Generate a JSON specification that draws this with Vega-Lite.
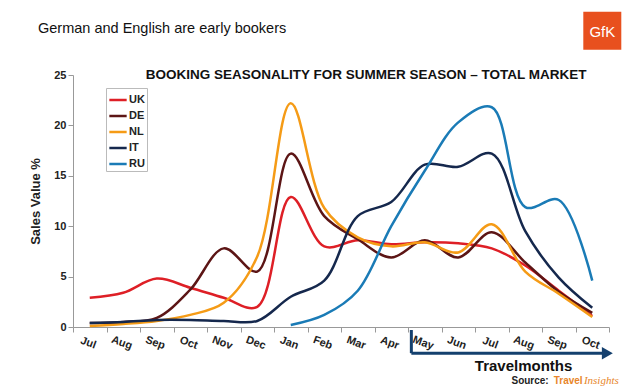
{
  "$schema": "https://vega.github.io/schema/vega-lite/v6.json",
  "width": 536,
  "height": 252,
  "autosize": {"type": "none"},
  "padding": {"left": 73, "top": 75, "right": 16, "bottom": 64},
  "background": "white",
  "title": {"text": "German and English are early bookers", "anchor": "start", "frame": "group", "dx": -35, "offset": -25, "fontSize": 14.5, "fontWeight": "normal", "font": "Liberation Sans", "color": "#111"},
  "config": {"view": {"stroke": null}, "font": "Liberation Sans"},
  "layer": [
    {
      "data": {"values": [
        {"country": "UK", "order": 0, "month": "Jul", "value": 2.9},
        {"country": "UK", "order": 1, "month": "Aug", "value": 3.4},
        {"country": "UK", "order": 2, "month": "Sep", "value": 4.8},
        {"country": "UK", "order": 3, "month": "Oct", "value": 3.9},
        {"country": "UK", "order": 4, "month": "Nov", "value": 2.9},
        {"country": "UK", "order": 5, "month": "Dec", "value": 2.0},
        {"country": "UK", "order": 6, "month": "Jan", "value": 12.9},
        {"country": "UK", "order": 7, "month": "Feb", "value": 8.0},
        {"country": "UK", "order": 8, "month": "Mar", "value": 8.6},
        {"country": "UK", "order": 9, "month": "Apr", "value": 8.2},
        {"country": "UK", "order": 10, "month": "May", "value": 8.4},
        {"country": "UK", "order": 11, "month": "Jun", "value": 8.3},
        {"country": "UK", "order": 12, "month": "Jul", "value": 7.8},
        {"country": "UK", "order": 13, "month": "Aug", "value": 6.1},
        {"country": "UK", "order": 14, "month": "Sep", "value": 3.6},
        {"country": "UK", "order": 15, "month": "Oct", "value": 1.1},
        {"country": "DE", "order": 0, "month": "Jul", "value": 0.4},
        {"country": "DE", "order": 1, "month": "Aug", "value": 0.5},
        {"country": "DE", "order": 2, "month": "Sep", "value": 0.9},
        {"country": "DE", "order": 3, "month": "Oct", "value": 3.7},
        {"country": "DE", "order": 4, "month": "Nov", "value": 7.8},
        {"country": "DE", "order": 5, "month": "Dec", "value": 5.5},
        {"country": "DE", "order": 6, "month": "Jan", "value": 17.2},
        {"country": "DE", "order": 7, "month": "Feb", "value": 11.0},
        {"country": "DE", "order": 8, "month": "Mar", "value": 8.7},
        {"country": "DE", "order": 9, "month": "Apr", "value": 6.9},
        {"country": "DE", "order": 10, "month": "May", "value": 8.6},
        {"country": "DE", "order": 11, "month": "Jun", "value": 6.9},
        {"country": "DE", "order": 12, "month": "Jul", "value": 9.4},
        {"country": "DE", "order": 13, "month": "Aug", "value": 6.4},
        {"country": "DE", "order": 14, "month": "Sep", "value": 3.5},
        {"country": "DE", "order": 15, "month": "Oct", "value": 1.4},
        {"country": "NL", "order": 0, "month": "Jul", "value": 0.1},
        {"country": "NL", "order": 1, "month": "Aug", "value": 0.3},
        {"country": "NL", "order": 2, "month": "Sep", "value": 0.6},
        {"country": "NL", "order": 3, "month": "Oct", "value": 1.2},
        {"country": "NL", "order": 4, "month": "Nov", "value": 2.4},
        {"country": "NL", "order": 5, "month": "Dec", "value": 7.0},
        {"country": "NL", "order": 6, "month": "Jan", "value": 22.2},
        {"country": "NL", "order": 7, "month": "Feb", "value": 11.8},
        {"country": "NL", "order": 8, "month": "Mar", "value": 8.9},
        {"country": "NL", "order": 9, "month": "Apr", "value": 8.0},
        {"country": "NL", "order": 10, "month": "May", "value": 8.4},
        {"country": "NL", "order": 11, "month": "Jun", "value": 7.4},
        {"country": "NL", "order": 12, "month": "Jul", "value": 10.2},
        {"country": "NL", "order": 13, "month": "Aug", "value": 5.5},
        {"country": "NL", "order": 14, "month": "Sep", "value": 3.3},
        {"country": "NL", "order": 15, "month": "Oct", "value": 1.0},
        {"country": "IT", "order": 0, "month": "Jul", "value": 0.4},
        {"country": "IT", "order": 1, "month": "Aug", "value": 0.5},
        {"country": "IT", "order": 2, "month": "Sep", "value": 0.7},
        {"country": "IT", "order": 3, "month": "Oct", "value": 0.7},
        {"country": "IT", "order": 4, "month": "Nov", "value": 0.6},
        {"country": "IT", "order": 5, "month": "Dec", "value": 0.6},
        {"country": "IT", "order": 6, "month": "Jan", "value": 3.0},
        {"country": "IT", "order": 7, "month": "Feb", "value": 4.6},
        {"country": "IT", "order": 8, "month": "Mar", "value": 11.0},
        {"country": "IT", "order": 9, "month": "Apr", "value": 12.4},
        {"country": "IT", "order": 10, "month": "May", "value": 16.1},
        {"country": "IT", "order": 11, "month": "Jun", "value": 15.9},
        {"country": "IT", "order": 12, "month": "Jul", "value": 17.2},
        {"country": "IT", "order": 13, "month": "Aug", "value": 9.5},
        {"country": "IT", "order": 14, "month": "Sep", "value": 4.9},
        {"country": "IT", "order": 15, "month": "Oct", "value": 1.9},
        {"country": "RU", "order": 6, "month": "Jan", "value": 0.2},
        {"country": "RU", "order": 7, "month": "Feb", "value": 1.2},
        {"country": "RU", "order": 8, "month": "Mar", "value": 3.6},
        {"country": "RU", "order": 9, "month": "Apr", "value": 10.0},
        {"country": "RU", "order": 10, "month": "May", "value": 15.5},
        {"country": "RU", "order": 11, "month": "Jun", "value": 20.3},
        {"country": "RU", "order": 12, "month": "Jul", "value": 21.8},
        {"country": "RU", "order": 13, "month": "Aug", "value": 11.9},
        {"country": "RU", "order": 14, "month": "Sep", "value": 12.6},
        {"country": "RU", "order": 15, "month": "Oct", "value": 4.6}
      ]},
      "mark": {"type": "line", "interpolate": "catmull-rom", "strokeWidth": 2.5},
      "encoding": {
        "x": {"field": "order", "type": "ordinal", "scale": {"type": "band", "paddingInner": 0, "paddingOuter": 0},
          "axis": {"title": null, "labelExpr": "['Jul','Aug','Sep','Oct','Nov','Dec','Jan','Feb','Mar','Apr','May','Jun','Jul','Aug','Sep','Oct'][datum.value]", "tickBand": "extent", "labelAngle": 20, "labelAlign": "center", "labelBaseline": "top", "labelDx": 4, "labelPadding": 5, "labelFontWeight": "bold", "labelFontSize": 11, "labelColor": "#222", "domainColor": "#999", "tickColor": "#999", "tickSize": 5}},
        "y": {"field": "value", "type": "quantitative", "scale": {"domain": [0, 25], "nice": false},
          "axis": {"title": "Sales Value %", "titleFontSize": 13, "titleFontWeight": "bold", "titleColor": "#222", "titlePadding": 11, "values": [0, 5, 10, 15, 20, 25], "grid": false, "labelFontWeight": "bold", "labelFontSize": 11, "labelColor": "#222", "domainColor": "#999", "tickColor": "#999", "tickSize": 5}},
        "color": {"field": "country", "type": "nominal",
          "scale": {"domain": ["UK", "DE", "NL", "IT", "RU"], "range": ["#de1f26", "#5c1515", "#f59b16", "#15284d", "#1a7bb6"]},
          "legend": {"title": null, "orient": "none", "legendX": 33, "legendY": 13, "symbolType": "stroke", "symbolSize": 300, "symbolStrokeWidth": 2.5, "labelFontWeight": "bold", "labelFontSize": 11, "labelColor": "#222", "labelOffset": 1, "strokeColor": "#bbb", "fillColor": "white", "padding": 2, "rowPadding": 1}}
      }
    },
    {
      "data": {"values": [{}]},
      "mark": {"type": "text", "fontWeight": "bold", "fontSize": 13.5, "baseline": "middle", "align": "center", "color": "#111"},
      "encoding": {
        "x": {"datum": 8.75, "type": "quantitative", "scale": {"domain": [0, 16]}, "axis": null},
        "y": {"datum": 25, "type": "quantitative", "scale": {"domain": [0, 25], "nice": false}},
        "text": {"value": "BOOKING SEASONALITY FOR SUMMER SEASON – TOTAL MARKET"}
      }
    },
    {
      "data": {"values": [{}]},
      "mark": {"type": "rule", "color": "#14406e", "strokeWidth": 3},
      "encoding": {
        "x": {"datum": 10.1, "type": "quantitative", "scale": {"domain": [0, 16]}, "axis": null},
        "y": {"datum": -0.3, "type": "quantitative", "scale": {"domain": [0, 25], "nice": false}},
        "y2": {"datum": -2.6}
      }
    },
    {
      "data": {"values": [{}]},
      "mark": {"type": "rule", "color": "#14406e", "strokeWidth": 3},
      "encoding": {
        "x": {"datum": 10.1, "type": "quantitative", "scale": {"domain": [0, 16]}, "axis": null},
        "x2": {"datum": 15.8},
        "y": {"datum": -2.6, "type": "quantitative", "scale": {"domain": [0, 25], "nice": false}}
      }
    },
    {
      "data": {"values": [{}]},
      "mark": {"type": "point", "shape": "triangle-right", "filled": true, "color": "#14406e", "size": 160, "opacity": 1},
      "encoding": {
        "x": {"datum": 15.95, "type": "quantitative", "scale": {"domain": [0, 16]}, "axis": null},
        "y": {"datum": -2.6, "type": "quantitative", "scale": {"domain": [0, 25], "nice": false}}
      }
    },
    {
      "data": {"values": [{}]},
      "mark": {"type": "text", "fontWeight": "bold", "fontSize": 15, "baseline": "middle", "align": "center", "color": "#111"},
      "encoding": {
        "x": {"datum": 13.45, "type": "quantitative", "scale": {"domain": [0, 16]}, "axis": null},
        "y": {"datum": -3.9, "type": "quantitative", "scale": {"domain": [0, 25], "nice": false}},
        "text": {"value": "Travelmonths"}
      }
    },
    {
      "data": {"values": [{}]},
      "mark": {"type": "text", "fontWeight": "bold", "fontSize": 10, "baseline": "middle", "align": "right", "color": "#222"},
      "encoding": {
        "x": {"datum": 14.2, "type": "quantitative", "scale": {"domain": [0, 16]}, "axis": null},
        "y": {"datum": -5.4, "type": "quantitative", "scale": {"domain": [0, 25], "nice": false}},
        "text": {"value": "Source:"}
      }
    },
    {
      "data": {"values": [{}]},
      "mark": {"type": "text", "fontWeight": "bold", "fontSize": 10, "baseline": "middle", "align": "left", "color": "#e8862a"},
      "encoding": {
        "x": {"datum": 14.35, "type": "quantitative", "scale": {"domain": [0, 16]}, "axis": null},
        "y": {"datum": -5.4, "type": "quantitative", "scale": {"domain": [0, 25], "nice": false}},
        "text": {"value": "Travel"}
      }
    },
    {
      "data": {"values": [{}]},
      "mark": {"type": "text", "fontStyle": "italic", "font": "Liberation Serif", "fontSize": 11, "baseline": "middle", "align": "left", "color": "#e8862a"},
      "encoding": {
        "x": {"datum": 15.25, "type": "quantitative", "scale": {"domain": [0, 16]}, "axis": null},
        "y": {"datum": -5.4, "type": "quantitative", "scale": {"domain": [0, 25], "nice": false}},
        "text": {"value": "Insights"}
      }
    },
    {
      "data": {"values": [{}]},
      "mark": {"type": "square", "filled": true, "color": "#e8501e", "size": 1444, "opacity": 1},
      "encoding": {
        "x": {"datum": 15.8, "type": "quantitative", "scale": {"domain": [0, 16]}, "axis": null},
        "y": {"datum": 29.4, "type": "quantitative", "scale": {"domain": [0, 25], "nice": false}}
      }
    },
    {
      "data": {"values": [{}]},
      "mark": {"type": "text", "fontSize": 15, "baseline": "middle", "align": "center", "color": "white"},
      "encoding": {
        "x": {"datum": 15.8, "type": "quantitative", "scale": {"domain": [0, 16]}, "axis": null},
        "y": {"datum": 29.3, "type": "quantitative", "scale": {"domain": [0, 25], "nice": false}},
        "text": {"value": "GfK"}
      }
    }
  ],
  "resolve": {"scale": {"x": "independent"}}
}
